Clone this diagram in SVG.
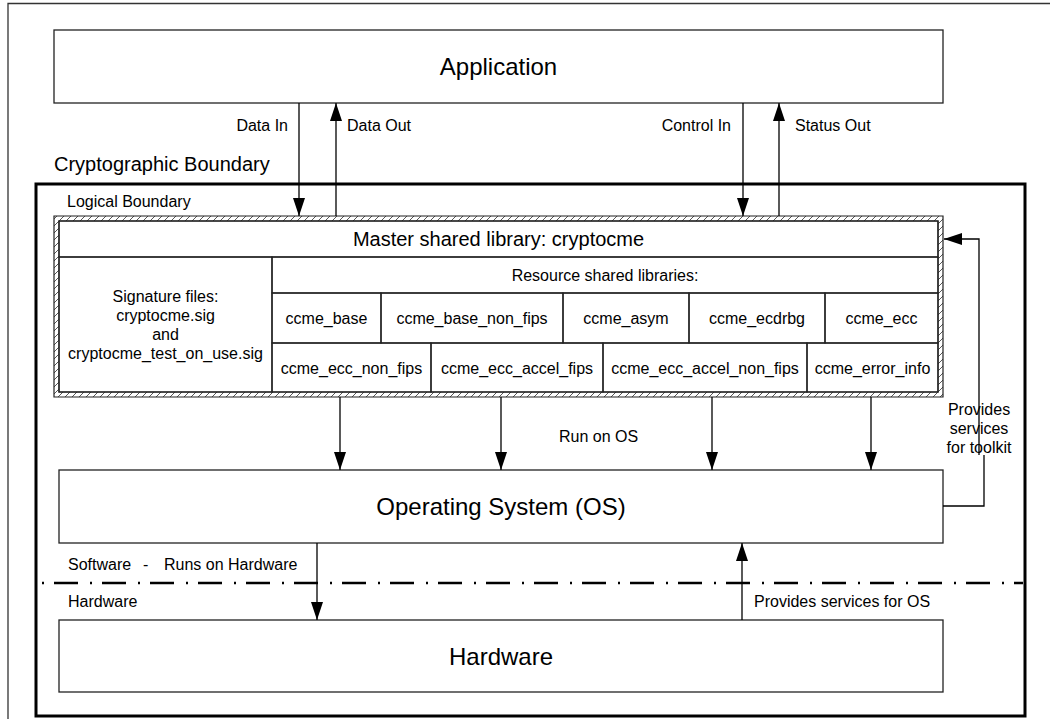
<svg xmlns="http://www.w3.org/2000/svg" width="1050" height="719" viewBox="0 0 1050 719">
<style>
text{font-family:"Liberation Sans",Arial,sans-serif;fill:#000}
.big{font-size:24px}
.s{font-size:16px}
.m{font-size:20px}
.box{fill:#fff;stroke:#222;stroke-width:1.3}
.cell{fill:none;stroke:#222;stroke-width:1.3}
.con{fill:none;stroke:#000;stroke-width:1.3}
</style>
<defs>
<marker id="ah" markerUnits="userSpaceOnUse" markerWidth="18" markerHeight="12" refX="18" refY="6" orient="auto">
<path d="M0,0 L18,6 L0,12 Z" fill="#000"/>
</marker>
<pattern id="hatch" patternUnits="userSpaceOnUse" width="7" height="7">
<rect width="7" height="7" fill="#fff"/>
<path d="M0,7 L7,0" stroke="#444" stroke-width="0.9"/>
</pattern>
</defs>
<rect width="1050" height="719" fill="#fff"/>
<g id="frame">
<path d="M8,719 V3.5 H1050" fill="none" stroke="#333" stroke-width="1.3"/>
</g>
<g id="crypto-boundary">
<rect x="36" y="184" width="989" height="532" fill="none" stroke="#000" stroke-width="3"/>
<text class="m" x="54" y="171">Cryptographic Boundary</text>
</g>
<g id="application">
<rect class="box" x="54" y="30" width="889" height="73"/>
<text class="big" x="498.5" y="75" text-anchor="middle">Application</text>
</g>
<g id="logical-boundary">
<text class="s" x="67" y="207">Logical Boundary</text>
<path d="M54,216 H943 V397 H54 Z M59,221 V392 H938 V221 Z" fill="url(#hatch)" fill-rule="evenodd" stroke="#222" stroke-width="1.2"/>
</g>
<g id="master">
<rect class="cell" x="59" y="221" width="879" height="36"/>
<text class="m" x="498.5" y="246" text-anchor="middle">Master shared library: cryptocme</text>
</g>
<g id="signature">
<rect class="cell" x="59" y="257" width="213" height="135"/>
<text class="s" text-anchor="middle"><tspan x="165.5" y="302">Signature files:</tspan><tspan x="165.5" y="321">cryptocme.sig</tspan><tspan x="165.5" y="340">and</tspan><tspan x="165.5" y="359">cryptocme_test_on_use.sig</tspan></text>
</g>
<g id="resource">
<rect class="cell" x="272" y="257" width="666" height="36"/>
<text class="s" x="605" y="281" text-anchor="middle">Resource shared libraries:</text>
</g>
<g id="ccme_base"><rect class="cell" x="272" y="293" width="109" height="50"/><text class="s" x="326.5" y="324" text-anchor="middle">ccme_base</text></g>
<g id="ccme_base_non_fips"><rect class="cell" x="381" y="293" width="182" height="50"/><text class="s" x="472" y="324" text-anchor="middle">ccme_base_non_fips</text></g>
<g id="ccme_asym"><rect class="cell" x="563" y="293" width="126" height="50"/><text class="s" x="626" y="324" text-anchor="middle">ccme_asym</text></g>
<g id="ccme_ecdrbg"><rect class="cell" x="689" y="293" width="136" height="50"/><text class="s" x="757" y="324" text-anchor="middle">ccme_ecdrbg</text></g>
<g id="ccme_ecc"><rect class="cell" x="825" y="293" width="113" height="50"/><text class="s" x="881.5" y="324" text-anchor="middle">ccme_ecc</text></g>
<g id="ccme_ecc_non_fips"><rect class="cell" x="272" y="343" width="159" height="49"/><text class="s" x="351.5" y="374" text-anchor="middle">ccme_ecc_non_fips</text></g>
<g id="ccme_ecc_accel_fips"><rect class="cell" x="431" y="343" width="172" height="49"/><text class="s" x="517" y="374" text-anchor="middle">ccme_ecc_accel_fips</text></g>
<g id="ccme_ecc_accel_non_fips"><rect class="cell" x="603" y="343" width="204" height="49"/><text class="s" x="705" y="374" text-anchor="middle">ccme_ecc_accel_non_fips</text></g>
<g id="ccme_error_info"><rect class="cell" x="807" y="343" width="131" height="49"/><text class="s" x="872.5" y="374" text-anchor="middle">ccme_error_info</text></g>
<g id="os">
<rect class="box" x="59" y="470" width="884" height="73"/>
<text class="big" x="501" y="515" text-anchor="middle">Operating System (OS)</text>
</g>
<g id="hardware">
<rect class="box" x="59" y="620" width="884" height="72"/>
<text class="big" x="501" y="665" text-anchor="middle">Hardware</text>
</g>
<g id="sw-hw-divider">
<line x1="42" y1="583" x2="1023" y2="583" stroke="#000" stroke-width="2.5" stroke-dasharray="2 10 24 12"/>
<text class="s" x="68" y="570">Software</text>
<text class="s" x="143" y="570">-</text>
<text class="s" x="164" y="570">Runs on Hardware</text>
<text class="s" x="68" y="607">Hardware</text>
</g>
<g id="connectors">
<line class="con" x1="299" y1="103" x2="299" y2="216" marker-end="url(#ah)"/>
<line class="con" x1="336" y1="216" x2="336" y2="103" marker-end="url(#ah)"/>
<line class="con" x1="743" y1="103" x2="743" y2="216" marker-end="url(#ah)"/>
<line class="con" x1="779" y1="216" x2="779" y2="103" marker-end="url(#ah)"/>
<line class="con" x1="340" y1="397" x2="340" y2="470" marker-end="url(#ah)"/>
<line class="con" x1="501" y1="397" x2="501" y2="470" marker-end="url(#ah)"/>
<line class="con" x1="712" y1="397" x2="712" y2="470" marker-end="url(#ah)"/>
<line class="con" x1="871" y1="397" x2="871" y2="470" marker-end="url(#ah)"/>
<line class="con" x1="317" y1="543" x2="317" y2="620" marker-end="url(#ah)"/>
<line class="con" x1="742" y1="620" x2="742" y2="543" marker-end="url(#ah)"/>
<path class="con" d="M943,506 H984 V455"/>
<path class="con" d="M979,455 V239 H944" marker-end="url(#ah)"/>
<text class="s" x="288" y="131" text-anchor="end">Data In</text>
<text class="s" x="347" y="131">Data Out</text>
<text class="s" x="731" y="131" text-anchor="end">Control In</text>
<text class="s" x="795" y="131">Status Out</text>
<text class="s" x="559" y="442">Run on OS</text>
<text class="s" text-anchor="middle"><tspan x="979" y="415">Provides</tspan><tspan x="979" y="434">services</tspan><tspan x="979" y="453">for toolkit</tspan></text>
<text class="s" x="754" y="607">Provides services for OS</text>
</g>
</svg>
